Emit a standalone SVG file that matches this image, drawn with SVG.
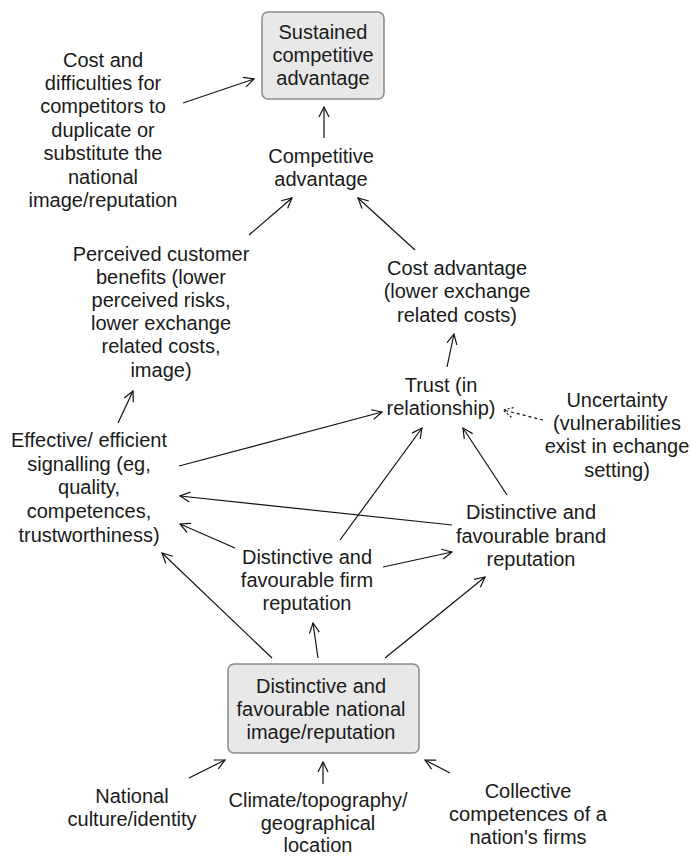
<svg xmlns="http://www.w3.org/2000/svg" width="691" height="856" viewBox="0 0 691 856">
<style>
text{font-family:"Liberation Sans",Arial,sans-serif;font-size:20px;fill:#1a1a1a;text-anchor:middle}
.box{fill:#e8e8e8;stroke:#8a8a8a;stroke-width:1.5}
.c line{stroke:#111;stroke-width:1.2;marker-end:url(#ah)}
.c line.d{stroke-dasharray:3,3;marker-end:url(#ahd)}
</style>
<defs>
<marker id="ah" markerUnits="userSpaceOnUse" markerWidth="12" markerHeight="12" refX="11" refY="6" orient="auto" viewBox="0 0 12 12">
<path d="M1,1 L11,6 L1,11" fill="none" stroke="#111" stroke-width="1.2"/>
</marker>
<marker id="ahd" markerUnits="userSpaceOnUse" markerWidth="12" markerHeight="12" refX="11" refY="6" orient="auto" viewBox="0 0 12 12">
<path d="M1,1 L11,6 L1,11" fill="none" stroke="#111" stroke-width="1.2" stroke-dasharray="2,2"/>
</marker>
</defs>
<rect width="691" height="856" fill="#fff"/>

<g id="sustained">
<rect class="box" x="262" y="12" width="122" height="87" rx="6"/>
<text x="323" y="39">Sustained</text>
<text x="323" y="62">competitive</text>
<text x="323" y="85">advantage</text>
</g>

<g id="cost-difficulties">
<text x="103" y="67">Cost and</text>
<text x="103" y="90">difficulties for</text>
<text x="103" y="113">competitors to</text>
<text x="103" y="137">duplicate or</text>
<text x="103" y="160">substitute the</text>
<text x="103" y="184">national</text>
<text x="103" y="207">image/reputation</text>
</g>

<g id="competitive">
<text x="321" y="163">Competitive</text>
<text x="321" y="186">advantage</text>
</g>

<g id="perceived">
<text x="161" y="261">Perceived customer</text>
<text x="161" y="284">benefits (lower</text>
<text x="161" y="307">perceived risks,</text>
<text x="161" y="330">lower exchange</text>
<text x="161" y="353">related costs,</text>
<text x="161" y="377">image)</text>
</g>

<g id="cost-advantage">
<text x="457" y="275">Cost advantage</text>
<text x="457" y="298">(lower exchange</text>
<text x="457" y="322">related costs)</text>
</g>

<g id="trust">
<text x="441" y="392">Trust (in</text>
<text x="441" y="415">relationship)</text>
</g>

<g id="uncertainty">
<text x="617" y="407">Uncertainty</text>
<text x="617" y="430">(vulnerabilities</text>
<text x="617" y="453">exist in echange</text>
<text x="617" y="477">setting)</text>
</g>

<g id="signalling">
<text x="89" y="447">Effective/ efficient</text>
<text x="89" y="471">signalling (eg,</text>
<text x="89" y="494">quality,</text>
<text x="89" y="518">competences,</text>
<text x="89" y="542">trustworthiness)</text>
</g>

<g id="brand">
<text x="531" y="519">Distinctive and</text>
<text x="531" y="543">favourable brand</text>
<text x="531" y="566">reputation</text>
</g>

<g id="firm">
<text x="307" y="564">Distinctive and</text>
<text x="307" y="587">favourable firm</text>
<text x="307" y="610">reputation</text>
</g>

<g id="national">
<rect class="box" x="228" y="664" width="191" height="89" rx="6"/>
<text x="321" y="693">Distinctive and</text>
<text x="321" y="716">favourable national</text>
<text x="321" y="739">image/reputation</text>
</g>

<g id="culture">
<text x="132" y="803">National</text>
<text x="132" y="826">culture/identity</text>
</g>

<g id="climate">
<text x="318" y="807">Climate/topography/</text>
<text x="318" y="830">geographical</text>
<text x="318" y="852">location</text>
</g>

<g id="collective">
<text x="528" y="798">Collective</text>
<text x="528" y="821">competences of a</text>
<text x="528" y="844">nation's firms</text>
</g>

<g id="connectors" class="c">
<line x1="183" y1="103" x2="254" y2="79"/>
<line x1="324" y1="138" x2="324" y2="107"/>
<line x1="249" y1="235" x2="292" y2="198"/>
<line x1="415" y1="250" x2="358" y2="198"/>
<line x1="447" y1="367" x2="454" y2="334"/>
<line class="d" x1="543" y1="420" x2="503" y2="410"/>
<line x1="118" y1="423" x2="133" y2="391"/>
<line x1="179" y1="466" x2="382" y2="412"/>
<line x1="452" y1="525" x2="180" y2="496"/>
<line x1="235" y1="548" x2="180" y2="524"/>
<line x1="340" y1="540" x2="422" y2="428"/>
<line x1="507" y1="495" x2="463" y2="428"/>
<line x1="383" y1="567" x2="452" y2="552"/>
<line x1="272" y1="658" x2="162" y2="553"/>
<line x1="318" y1="658" x2="313" y2="623"/>
<line x1="385" y1="658" x2="485" y2="577"/>
<line x1="189" y1="778" x2="225" y2="760"/>
<line x1="323" y1="784" x2="323" y2="762"/>
<line x1="450" y1="773" x2="425" y2="760"/>
</g>
</svg>
